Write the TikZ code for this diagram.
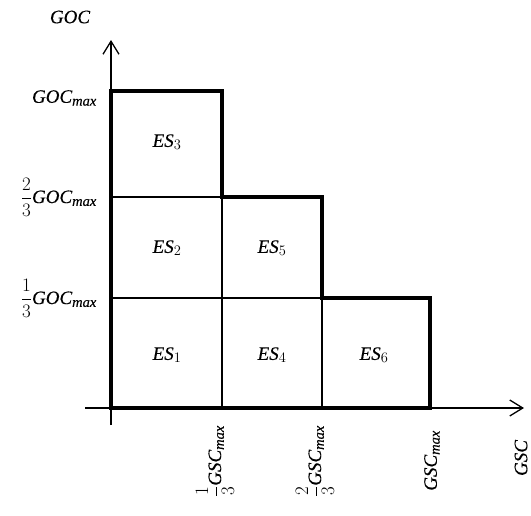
\documentclass[tikz,border=0pt]{standalone}
\usepackage{fix-cm}
\usepackage{fontspec}
\setmainfont{Liberation Serif}[ItalicFeatures={FakeBold=0.3},UprightFeatures={FakeBold=0.3}]
\DeclareMathSizes{19}{19}{14.5}{11}
\usetikzlibrary{arrows.meta}
\newcommand{\itx}[1]{\mathit{#1}}
\begin{document}
\begin{tikzpicture}[x=1pt,y=-1pt,
  thickline/.style={line width=3.6pt, line join=miter, line cap=rect},
  thinline/.style={line width=1.2pt},
  axisline/.style={line width=1.3pt, -{Straight Barb[length=13pt,width=16pt,line width=1.3pt]}},
  lab/.style={font=\fontsize{19}{22}\selectfont, inner sep=0pt},
]
\useasboundingbox (0,0) rectangle (531,515);
% grid coordinates
\coordinate (O)   at (111,408);
\coordinate (X1)  at (222,408);
\coordinate (X2)  at (322,408);
\coordinate (X3)  at (430,408);
\coordinate (Y1)  at (111,298);
\coordinate (Y2)  at (111,197);
\coordinate (Y3)  at (111,91);
\coordinate (A)   at (222,91);
\coordinate (B)   at (222,197);
\coordinate (C)   at (322,197);
\coordinate (D)   at (322,298);
\coordinate (E)   at (430,298);
% axes
\coordinate (xs) at (85,408);
\coordinate (xe) at (524,408);
\coordinate (ys) at (111,425);
\coordinate (ye) at (111,40);
\draw[axisline] (xs) -- (xe);
\draw[axisline] (ys) -- (ye);
% inner lines
\draw[thinline] (Y2) -- (B);
\draw[thinline] (Y1) -- (D);
\draw[thinline] (B) -- (X1);
\draw[thinline] (D) -- (X2);
% outline
\draw[thickline] (O) -- (Y3) -- (A) -- (B) -- (C) -- (D) -- (E) -- (X3) -- cycle;
% cell labels
\node[lab] (es1) at (167,355) {$\itx{ES}_1$};
\node[lab] (es2) at (167,248) {$\itx{ES}_2$};
\node[lab] (es3) at (167,142) {$\itx{ES}_3$};
\node[lab] (es4) at (272,355) {$\itx{ES}_4$};
\node[lab] (es5) at (272,248) {$\itx{ES}_5$};
\node[lab] (es6) at (374,355) {$\itx{ES}_6$};
% axis labels
\node[lab] (goc) at (70,17) {$\itx{GOC}$};
\node[lab, anchor=east] (gocmax) at (97,98) {$\itx{GOC}_{\itx{max}}$};
\node[lab, anchor=east] (goc23) at (97,197) {$\displaystyle\frac{2}{3}\itx{GOC}_{\itx{max}}$};
\node[lab, anchor=east] (goc13) at (97,298) {$\displaystyle\frac{1}{3}\itx{GOC}_{\itx{max}}$};
\node[lab, rotate=90, anchor=east] (gsc13) at (215,425) {$\displaystyle\frac{1}{3}\itx{GSC}_{\itx{max}}$};
\node[lab, rotate=90, anchor=east] (gsc23) at (315,425) {$\displaystyle\frac{2}{3}\itx{GSC}_{\itx{max}}$};
\node[lab, rotate=90, anchor=east] (gscmax) at (432,430) {$\itx{GSC}_{\itx{max}}$};
\node[lab, rotate=90] (gsc) at (521,458) {$\itx{GSC}$};
\end{tikzpicture}
\end{document}
